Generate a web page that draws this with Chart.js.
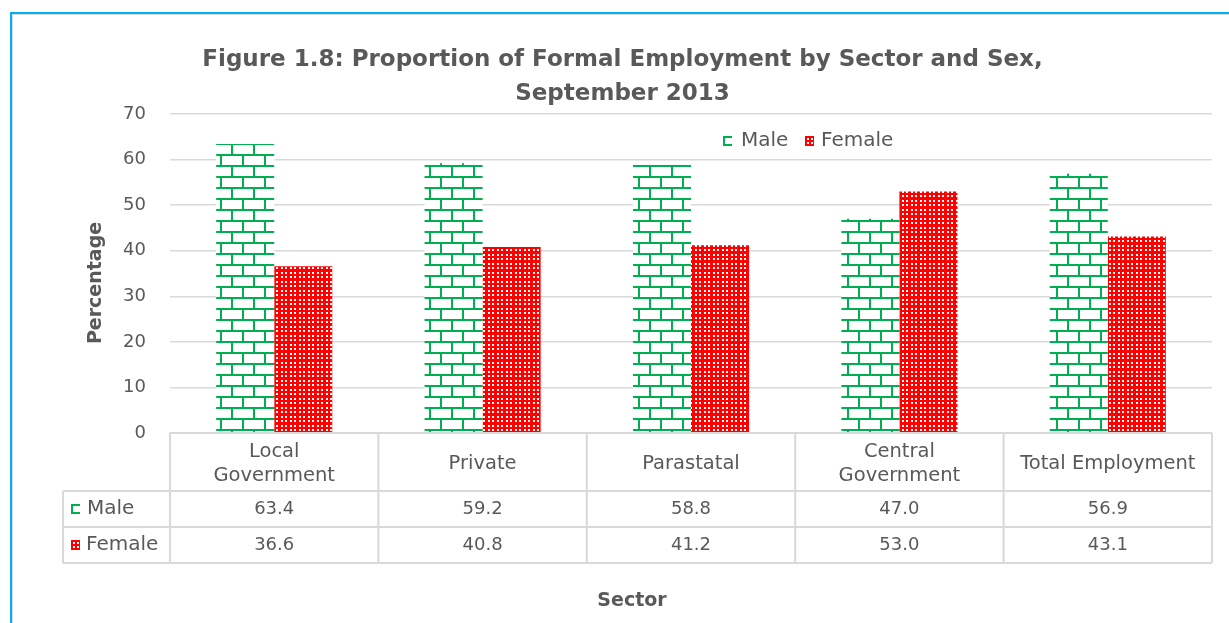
<!DOCTYPE html>
<html><head><meta charset="utf-8">
<script src="https://cdn.jsdelivr.net/npm/chart.js@4.4.1/dist/chart.umd.min.js"></script>
<style>
html,body{margin:0;padding:0;background:#fff;}
#wrap{position:relative;width:1229px;height:623px;overflow:hidden;}
#frame{position:absolute;left:10px;top:12px;width:1400px;height:800px;border-left:2px solid #00B0F0;border-top:2px solid #00B0F0;box-shadow:inset 1px 1px 0 #d9d9d9;}
canvas{position:absolute;left:0;top:0;}
</style></head>
<body><div id="wrap"><div id="frame"></div><canvas id="c" width="1229" height="623"></canvas></div>
<script>
// ---- data ----
const categories = [['Local','Government'],['Private'],['Parastatal'],['Central','Government'],['Total Employment']];
const seriesNames = ['Male','Female'];
const maleValues = [63.4, 59.2, 58.8, 47.0, 56.9];
const femaleValues = [36.6, 40.8, 41.2, 53.0, 43.1];
const yMin = 0, yMax = 70, yStep = 10;
const titleLines = ['Figure 1.8: Proportion of Formal Employment by Sector and Sex,', 'September 2013'];
const xTitle = 'Sector';
const yTitle = 'Percentage';

// ---- styles ----
const FONT = '"DejaVu Sans", sans-serif';
const TEXT = '#595959';
const LINE = '#d9d9d9';
const GREEN = '#00B050';
const RED = '#FF0000';

function brickPattern(ctx){
  const c = document.createElement('canvas'); c.width = 22; c.height = 22;
  const g = c.getContext('2d');
  g.fillStyle = '#fff'; g.fillRect(0,0,22,22);
  g.fillStyle = GREEN;
  g.fillRect(0,0,22,2); g.fillRect(0,11,22,2);
  g.fillRect(0,0,2,11); g.fillRect(11,11,2,11);
  return ctx.createPattern(c,'repeat');
}
function dotPattern(ctx){
  const c = document.createElement('canvas'); c.width = 9; c.height = 9;
  const g = c.getContext('2d');
  g.fillStyle = RED; g.fillRect(0,0,9,9);
  g.fillStyle = '#fff';
  g.fillRect(2,2,2,2); g.fillRect(6,2,2,2); g.fillRect(2,6,2,2); g.fillRect(6,6,2,2);
  return ctx.createPattern(c,'repeat');
}

const canvas = document.getElementById('c');
const ctx0 = canvas.getContext('2d');
const maleFill = brickPattern(ctx0);
const femaleFill = dotPattern(ctx0);

function drawMaleKey(ctx, x, y){
  ctx.fillStyle = GREEN;
  ctx.fillRect(x, y, 9, 2);
  ctx.fillRect(x, y, 2, 10);
  ctx.fillRect(x, y+8, 9, 2);
}
function drawFemaleKey(ctx, x, y){
  ctx.fillStyle = RED; ctx.fillRect(x, y, 9, 10);
  ctx.fillStyle = '#fff';
  for (let yy = y+2; yy < y+10; yy += 4) for (let xx = x+2; xx < x+9; xx += 4) ctx.fillRect(xx, yy, 2, 2);
}

const tablePlugin = {
  id: 'dataTable',
  afterDraw(chart){
    const ctx = chart.ctx, xs = chart.scales.x, area = chart.chartArea;
    const n = categories.length;
    const step = xs.getPixelForValue(1) - xs.getPixelForValue(0);
    const bounds = [];
    for (let i = 0; i <= n; i++) bounds.push(xs.getPixelForValue(0) - step/2 + i*step);
    const top = area.bottom, hdrB = top + 58, r1B = hdrB + 36, r2B = r1B + 36, legL = 63;
    ctx.save();
    ctx.strokeStyle = LINE; ctx.lineWidth = 2;
    const ln = (a,b,c,d) => { ctx.beginPath(); ctx.moveTo(a,b); ctx.lineTo(c,d); ctx.stroke(); };
    ln(bounds[0], top, bounds[n], top);
    [hdrB, r1B, r2B].forEach(yy => ln(legL, yy, bounds[n], yy));
    bounds.forEach(b => ln(b, top, b, r2B));
    ln(legL, hdrB, legL, r2B);

    ctx.fillStyle = TEXT; ctx.textAlign = 'center'; ctx.textBaseline = 'middle';
    categories.forEach((lab, i) => {
      const cx = xs.getPixelForValue(i);
      const mid = (top + hdrB) / 2 + 2;
      ctx.font = '19.5px ' + FONT;
      lab.forEach((t, j) => ctx.fillText(t, cx, mid + (j - (lab.length-1)/2) * 24));
      ctx.font = '18px ' + FONT;
      ctx.fillText(maleValues[i].toFixed(1), cx, (hdrB + r1B)/2);
      ctx.fillText(femaleValues[i].toFixed(1), cx, (r1B + r2B)/2);
    });
    ctx.textAlign = 'left';
    ctx.font = '20px ' + FONT;
    drawMaleKey(ctx, 71, (hdrB + r1B)/2 - 5);
    ctx.fillStyle = TEXT; ctx.fillText(seriesNames[0], 87, (hdrB + r1B)/2);
    drawFemaleKey(ctx, 71, (r1B + r2B)/2 - 5);
    ctx.fillStyle = TEXT; ctx.fillText(seriesNames[1], 86, (r1B + r2B)/2);

    // top legend
    const ly = 141;
    drawMaleKey(ctx, 723, ly - 5);
    ctx.fillStyle = TEXT; ctx.fillText(seriesNames[0], 741, ly);
    drawFemaleKey(ctx, 805, ly - 5);
    ctx.fillStyle = TEXT; ctx.fillText(seriesNames[1], 821, ly);

    // axis titles
    ctx.font = 'bold 19px ' + FONT;
    ctx.textAlign = 'center';
    ctx.fillText(xTitle, 632, 601);
    ctx.translate(96, 283); ctx.rotate(-Math.PI/2);
    ctx.fillText(yTitle, 0, 0);
    ctx.restore();
  }
};

new Chart(canvas, {
  type: 'bar',
  data: {
    labels: categories,
    datasets: [
      { label: seriesNames[0], data: maleValues, backgroundColor: maleFill, borderWidth: 0 },
      { label: seriesNames[1], data: femaleValues, backgroundColor: femaleFill, borderWidth: 0 }
    ]
  },
  options: {
    responsive: false,
    animation: false,
    devicePixelRatio: 1,
    layout: { padding: { top: 0, left: 33, right: 17, bottom: 190 } },
    datasets: { bar: { categoryPercentage: 0.557, barPercentage: 1.0 } },
    plugins: {
      legend: { display: false },
      tooltip: { enabled: false },
      title: {
        display: true, text: titleLines, color: TEXT,
        font: { family: FONT, size: 23, weight: 'bold', lineHeight: 34/23 },
        padding: { top: 43, bottom: 3 }
      }
    },
    scales: {
      x: { display: false },
      y: {
        min: yMin, max: yMax,
        afterFit(s){ s.width = 137; },
        ticks: { stepSize: yStep, color: TEXT, font: { family: FONT, size: 18 }, padding: 24 },
        grid: { color: LINE, lineWidth: 1.5, drawTicks: false },
        border: { display: false }
      }
    }
  },
  plugins: [tablePlugin]
});
</script>
</body></html>
